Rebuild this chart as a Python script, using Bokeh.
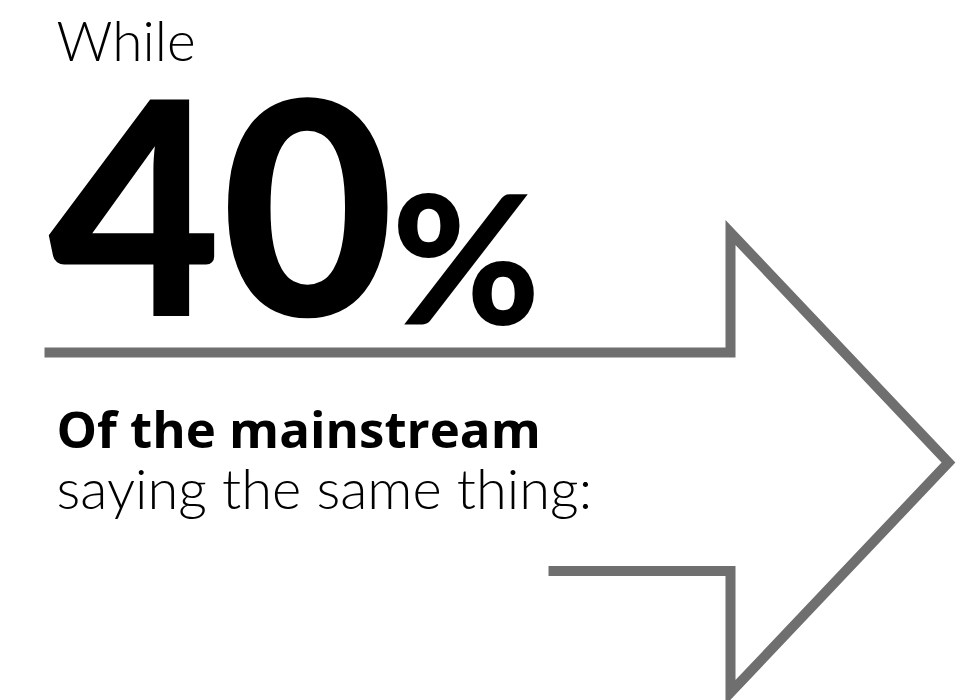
from bokeh.plotting import figure
from bokeh.models import Range1d
from bokeh.core.properties import value
from bokeh.embed import file_html
from bokeh.resources import INLINE

# Arrow outline vertices (reference pixel coordinates)
arrow_x = [44, 730, 730, 948, 730, 730, 548]
arrow_y = [352, 352, 232, 462, 692, 570.5, 570.5]

# Text blocks
lead_text = ["While"]
big_value = ["40"]
big_unit = ["%"]
line1 = ["Of the mainstream"]
line2 = ["saying the same thing:"]

W, H = 972, 700
p = figure(width=W, height=H, output_backend="svg", toolbar_location=None,
           x_range=Range1d(0, W), y_range=Range1d(H, 0),
           min_border=0)
p.axis.visible = False
p.grid.visible = False
p.outline_line_color = None
p.background_fill_color = "white"
p.border_fill_color = "white"

p.line(arrow_x, arrow_y, line_color="#6f6f6f", line_width=10, line_join="miter")

light = value("Lato Light, Lato")
black = value("Lato Black, Lato")

p.text(x=[56], y=[39], text=lead_text, text_font=light, text_font_size="55px",
       text_baseline="alphabetic", text_color="black")
p.text(x=[48], y=[206], text=big_value, text_font=black, text_font_style="bold",
       text_font_size="298px", text_baseline="alphabetic", text_color="black")
p.text(x=[391], y=[253], text=big_unit, text_font=black, text_font_style="bold",
       text_font_size="180px", text_baseline="alphabetic", text_color="black")
p.text(x=[56], y=[427], text=line1, text_font=value("Open Sans"), text_font_style="bold",
       text_font_size="51px", text_baseline="alphabetic", text_color="black")
p.text(x=[56], y=[487], text=line2, text_font=light, text_font_size="56px",
       text_baseline="alphabetic", text_color="black")

open("out.html", "w").write(file_html(p, INLINE))
